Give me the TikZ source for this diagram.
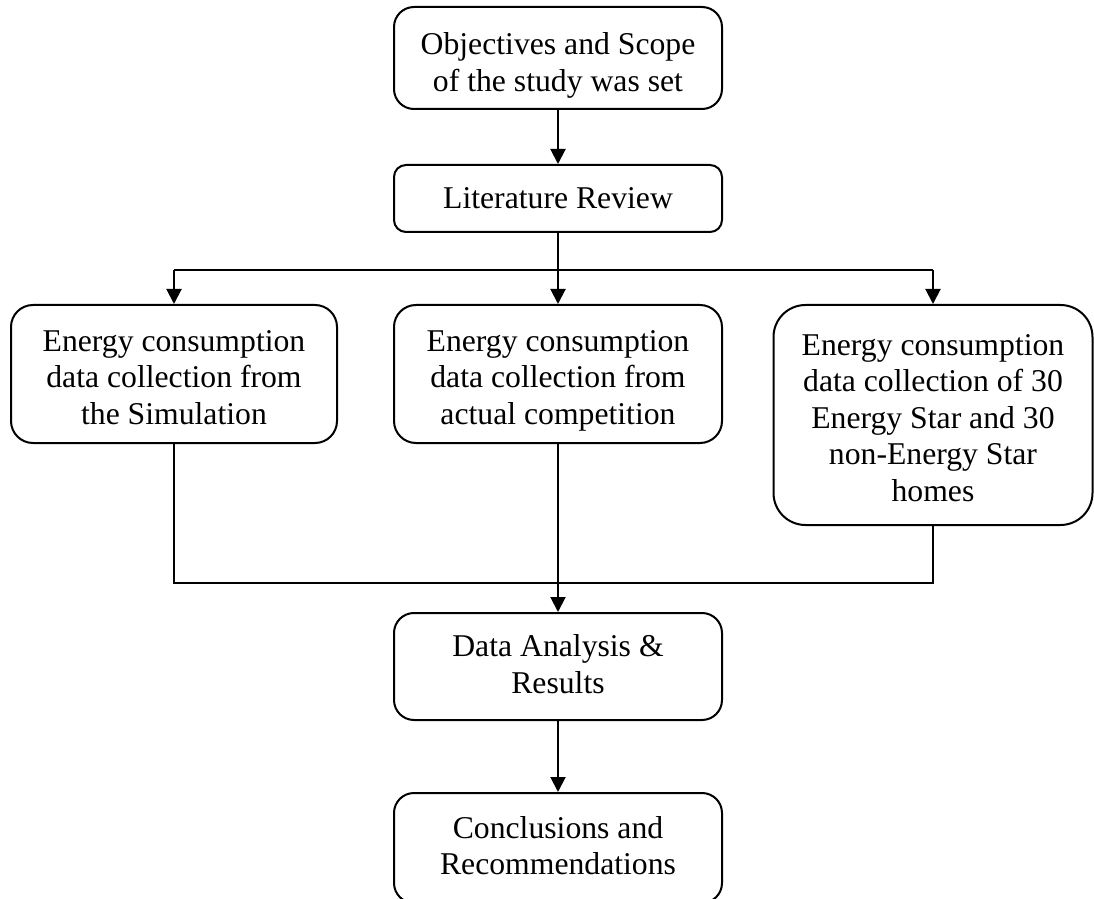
\documentclass[tikz,border=0pt]{standalone}
\usepackage{fontspec}
\setmainfont{Liberation Serif}
\usetikzlibrary{arrows.meta}
\newcommand\firstrule[1]{\rule{0pt}{#1}}
\newcommand\lastrule{\rule[-3.4pt]{0pt}{3.4pt}}
\begin{document}
\tikzset{
  flowbox/.style={draw, line width=1pt, rounded corners=#1, inner sep=0pt, align=center,
    font=\fontsize{15.85pt}{18.3pt}\selectfont},
  flowbox/.default=10pt,
  arr/.style={line width=1pt, -{Triangle[length=7.5pt,width=7.5pt]}},
  ln/.style={line width=1pt},
}
\begin{tikzpicture}[x=0.5pt,y=-0.5pt]
\useasboundingbox (0,0) rectangle (1094,899);
\node[flowbox=10pt, minimum width=164pt, minimum height=51pt] (b1) at (558,58) {\firstrule{18.7pt}Objectives and Scope\\of the study was set\lastrule};
\node[flowbox=6pt, minimum width=164pt, minimum height=33.5pt] (b2) at (558,198.5) {Literature Review};
\node[flowbox=11pt, minimum width=163pt, minimum height=69pt] (b3) at (174,374) {\firstrule{17pt}Energy consumption\\data collection from\\the Simulation\lastrule};
\node[flowbox=11pt, minimum width=164pt, minimum height=69pt] (b4) at (558,374) {\firstrule{17pt}Energy consumption\\data collection from\\actual competition\lastrule};
\node[flowbox=16pt, minimum width=159.5pt, minimum height=110pt] (b5) at (933,415) {\firstrule{16.6pt}Energy consumption\\data collection of 30\\Energy Star and 30\\non-Energy Star\\homes\lastrule};
\node[flowbox=10pt, minimum width=164pt, minimum height=53.5pt] (b6) at (558,666.5) {\firstrule{11.7pt}Data Analysis \&\\Results\lastrule};
\node[flowbox=10pt, minimum width=164pt, minimum height=55pt] (b7) at (558,848) {\firstrule{11.7pt}Conclusions and\\Recommendations\lastrule};
\coordinate (split) at (558,270);
\coordinate (merge) at (558,583);
\draw[arr] (b1) -- (b2);
\draw[ln] (b2.south) -- (split);
\draw[ln] (b3.north |- split) -- (b5.north |- split);
\draw[arr] (b3.north |- split) -- (b3.north);
\draw[arr] (split) -- (b4.north);
\draw[arr] (b5.north |- split) -- (b5.north);
\draw[ln] (b3.south) |- (merge);
\draw[ln] (b5.south) |- (merge);
\draw[arr] (b4.south) -- (b6.north);
\draw[arr] (b6) -- (b7);
\end{tikzpicture}
\end{document}
